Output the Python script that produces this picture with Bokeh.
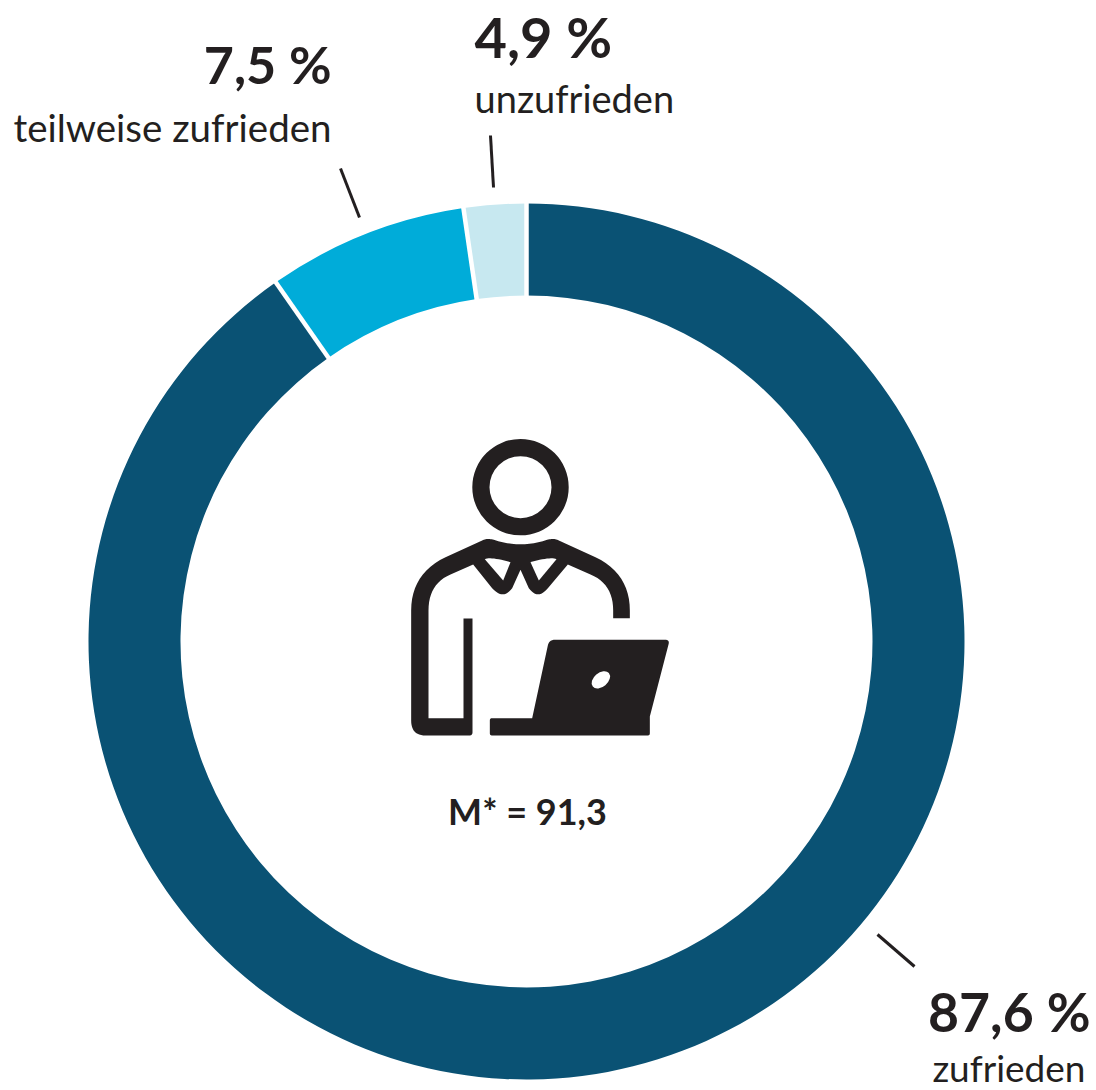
from math import cos, sin, radians
from bokeh.plotting import figure
from bokeh.models import Range1d
from bokeh.core.properties import value
from bokeh.embed import file_html
from bokeh.resources import INLINE

# values
categories = ["unzufrieden", "teilweise zufrieden", "zufrieden"]
drawn_shares = [2.3, 7.4, 90.3]          # share of the ring as drawn in the picture
percent_labels = ["4,9 %", "7,5 %", "87,6 %"]
mean_label = "M* = 91,3"
colors = ["#c7e8f0", "#00acd9", "#0a5274"]

INK = "#231f20"
FONT = "Lato"
W, H = 1096, 1090
CX, CY, R_OUT, R_IN = 526, 641, 438, 346

def fy(y):
    return 1090 - y

p = figure(width=W, height=H, x_range=Range1d(0, W), y_range=Range1d(0, H),
           output_backend="svg", toolbar_location=None, min_border=0,
           outline_line_color=None, background_fill_color="white", border_fill_color="white")
p.xaxis.visible = False
p.yaxis.visible = False
p.grid.visible = False

# ring: starts at the top, goes anticlockwise
start = 90.0
bounds = []
for share, col in zip(drawn_shares, colors):
    end = start + share * 3.6
    p.annular_wedge(x=CX, y=fy(CY), inner_radius=R_IN, outer_radius=R_OUT,
                    start_angle=radians(start), end_angle=radians(end),
                    fill_color=col, line_color=None)
    bounds.append(start)
    start = end
for a in bounds:
    t = radians(a)
    p.segment(x0=CX + (R_IN - 4) * cos(t), y0=fy(CY) + (R_IN - 4) * sin(t),
              x1=CX + (R_OUT + 4) * cos(t), y1=fy(CY) + (R_OUT + 4) * sin(t),
              line_color="white", line_width=4.5)

# leader lines
for x0, y0, x1, y1 in [(490, 135, 493, 187), (340, 168, 359, 217), (877, 934, 914, 966)]:
    p.segment(x0=x0, y0=fy(y0), x1=x1, y1=fy(y1), line_color=INK, line_width=3)

# icon, traced in pixels of the reference crop
def Z(x, y):
    return 390 + x / 3, fy(420 + y / 3)

def path(items):
    xs, ys = [], []
    cur = None
    for it in items:
        if len(it) == 2:
            cur = it
            zx, zy = Z(*it)
            xs.append(zx); ys.append(zy)
        else:
            c = it[:2]; e = it[2:]
            for k in range(1, 13):
                u = k / 12
                qx = (1-u)**2*cur[0] + 2*u*(1-u)*c[0] + u*u*e[0]
                qy = (1-u)**2*cur[1] + 2*u*(1-u)*c[1] + u*u*e[1]
                zx, zy = Z(qx, qy)
                xs.append(zx); ys.append(zy)
            cur = e
    return xs, ys

body = [(246, 594), (219, 594), (219, 893), (114, 893), (114, 570),
        (114, 490, 180, 462), (248, 432), (305, 503), (338, 540, 365, 503),
        (390, 448), (415, 503), (442, 540, 472, 503), (532, 432), (600, 462),
        (668, 490, 668, 570), (668, 593), (718, 593), (718, 570),
        (718, 460, 615, 410), (505, 360), (490, 352, 470, 358), (390, 385, 310, 358),
        (290, 352, 275, 360), (165, 410), (62, 460, 62, 570), (62, 900),
        (62, 945, 105, 945), (236, 945), (246, 945, 246, 935)]
xs, ys = path(body)
p.patch(xs, ys, fill_color=INK, line_color=None)
for hole in ([(283, 416), (300, 408, 360, 425), (338, 480)],
             [(420, 425), (480, 408, 498, 416), (445, 480)]):
    xs, ys = path(hole)
    p.patch(xs, ys, fill_color="white", line_color=None)

laptop = [(472, 675), (476, 658, 492, 658), (825, 658), (838, 658, 834, 672), (778, 888),
          (778, 938), (778, 945, 771, 945), (305, 945), (298, 945, 298, 938), (298, 900),
          (298, 893, 305, 893), (425, 893)]
xs, ys = path(laptop)
p.patch(xs, ys, fill_color=INK, line_color=None)
hx, hy = Z(631, 778)
p.ellipse(x=hx, y=hy, width=21, height=14, angle=radians(40), fill_color="white", line_color=None)

# head
hx, hy = Z(390, 200)
p.annulus(x=hx, y=hy, inner_radius=31, outer_radius=48.2, fill_color=INK, line_color=None)

# texts (the renderer sets "alphabetic" text lower by about 0.43 of the size)
def txt(x, y, s, size, align="left", style="normal"):
    p.text(x=[x], y=[fy(y - 0.43 * size)], text=[s], text_font=value(FONT), text_font_size=f"{size}px",
           text_color=INK, text_align=align, text_baseline="alphabetic", text_font_style=style)

txt(474, 60, percent_labels[0], 56, style="bold")
txt(474, 114, categories[0], 38)
txt(331, 86, percent_labels[1], 52, "right", "bold")
txt(331, 143, categories[1], 38.5, "right")
txt(1090, 1034, percent_labels[2], 53.5, "right", "bold")
txt(1085, 1083, categories[2], 37, "right")
txt(527, 826, mean_label, 36, "center", "bold")

open("out.html", "w").write(file_html(p, INLINE))
